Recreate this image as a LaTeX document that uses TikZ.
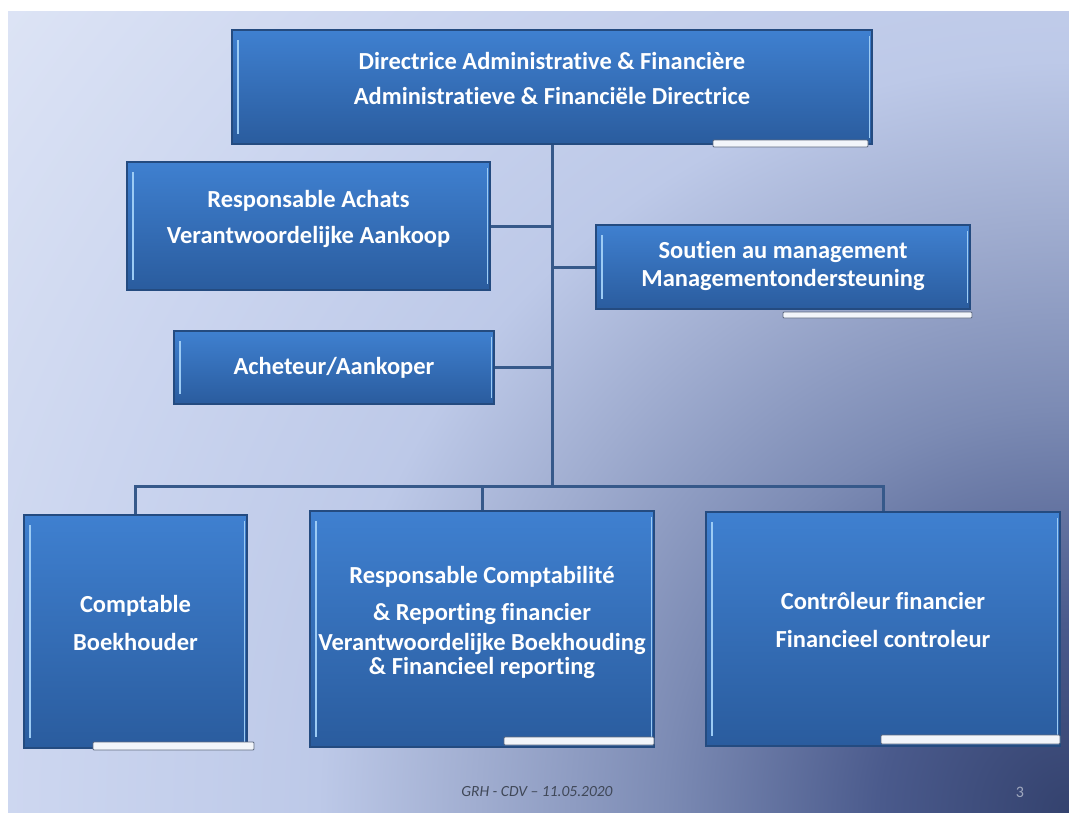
\documentclass[tikz,border=0pt]{standalone}
\usepackage{fontspec}
\setmainfont[Ligatures=NoCommon]{Carlito}
\definecolor{bg0}{HTML}{34426E}
\definecolor{bg1}{HTML}{4A5A8C}
\definecolor{bg2}{HTML}{7C8BB4}
\definecolor{bg3}{HTML}{A0ADD0}
\definecolor{bg4}{HTML}{BDC9E8}
\definecolor{bg5}{HTML}{CBD5EF}
\definecolor{bg6}{HTML}{DDE4F5}
\definecolor{boxtop}{HTML}{3F80D0}
\definecolor{boxbot}{HTML}{2A5C9E}
\definecolor{boxborder}{HTML}{244B80}
\definecolor{hl}{HTML}{9CCBF4}
\definecolor{conn}{HTML}{36598A}
\definecolor{stripfill}{HTML}{F2F5FA}
\definecolor{stripborder}{HTML}{5E6A80}
\definecolor{footgray}{HTML}{404858}
\definecolor{pagegray}{HTML}{A0A8BE}
\pgfdeclareradialshading{slidebg}{\pgfpoint{0bp}{0bp}}{color(0bp)=(bg0); color(3.5bp)=(bg1); color(7.5bp)=(bg2); color(11bp)=(bg3); color(14bp)=(bg4); color(19bp)=(bg5); color(25bp)=(bg6); color(50bp)=(bg6)}
\newcommand{\bxt}[2]{\raisebox{#1}[0pt][0pt]{\begin{tabular}{@{}c@{}}#2\end{tabular}}}
\tikzset{
  box/.style={rectangle, draw=boxborder, line width=1.2pt, top color=boxtop, bottom color=boxbot,
    text=white, font=\bfseries\fontsize{24.5}{29}\selectfont, inner sep=0pt,
    path picture={
      \draw[hl, line width=2.5pt] ([xshift=6pt,yshift=-10pt]path picture bounding box.north west) -- ([xshift=6pt,yshift=10pt]path picture bounding box.south west);
      \draw[hl, line width=1.6pt] ([xshift=-2.5pt,yshift=-6pt]path picture bounding box.north east) -- ([xshift=-2.5pt,yshift=6pt]path picture bounding box.south east);
    }},
  link/.style={draw=conn, line width=3pt},
  strip/.style={fill=stripfill, draw=stripborder, line width=0.9pt, rounded corners=1pt},
}
\begin{document}
\begin{tikzpicture}[x=1pt,y=-1pt]
\useasboundingbox (0,0) rectangle (1069,812);
\fill[white] (0,0) rectangle (1069,812);
\begin{scope}
  \clip (8,11) rectangle (1069,812);
  \shade[shading=slidebg] (1069,812) circle[radius=1342];
\end{scope}

\node[box, minimum width=640, minimum height=114] (top) at (552,87)
  {\bxt{0pt}{Directrice Administrative \& Financière\\[6pt]Administratieve \& Financiële Directrice}};
\node[box, minimum width=363, minimum height=128] (achats) at (308.5,226)
  {\bxt{0pt}{Responsable Achats\\[7pt]Verantwoordelijke Aankoop}};
\node[box, minimum width=374, minimum height=84] (soutien) at (783,267)
  {\bxt{-6pt}{Soutien au management\\[-1pt]Managementondersteuning}};
\node[box, minimum width=320, minimum height=73] (acheteur) at (334,367.5)
  {\bxt{-7pt}{Acheteur/Aankoper}};
\node[box, minimum width=223, minimum height=233] (compt) at (135.5,631.5)
  {\bxt{0pt}{Comptable\\[9pt]Boekhouder}};
\node[box, minimum width=344, minimum height=236] (resp) at (482,629)
  {\bxt{0pt}{Responsable Comptabilité\\[8pt]\& Reporting financier\\[1pt]Verantwoordelijke Boekhouding\\[-5pt]\& Financieel reporting}};
\node[box, minimum width=354, minimum height=234] (ctrl) at (883,629)
  {\bxt{0pt}{Contrôleur financier\\[9pt]Financieel controleur}};

\coordinate (bus) at (552,486);
\draw[link] (top.south) -- (bus);
\draw[link] (achats.east) -- (achats.east -| top.south);
\draw[link] (acheteur.east) -- (acheteur.east -| top.south);
\draw[link] (soutien.west) -- (soutien.west -| top.south);
\draw[link] (compt.north) |- (bus) -| (ctrl.north);
\draw[link] (resp.north) -- (resp.north |- bus);

\draw[strip] (713,140) rectangle (868,147);
\draw[strip] (783,312) rectangle (972,318);
\draw[strip] (93,742) rectangle (254,750);
\draw[strip] (504,737) rectangle (654,745);
\draw[strip] (881,735) rectangle (1060,744);

\node[font=\itshape\fontsize{15.5}{17}\selectfont, text=footgray] (foot) at (537,792) {GRH - CDV – 11.05.2020};
\node[font=\fontsize{16}{18}\selectfont, text=pagegray] (pg) at (1020,792) {3};
\end{tikzpicture}
\end{document}
